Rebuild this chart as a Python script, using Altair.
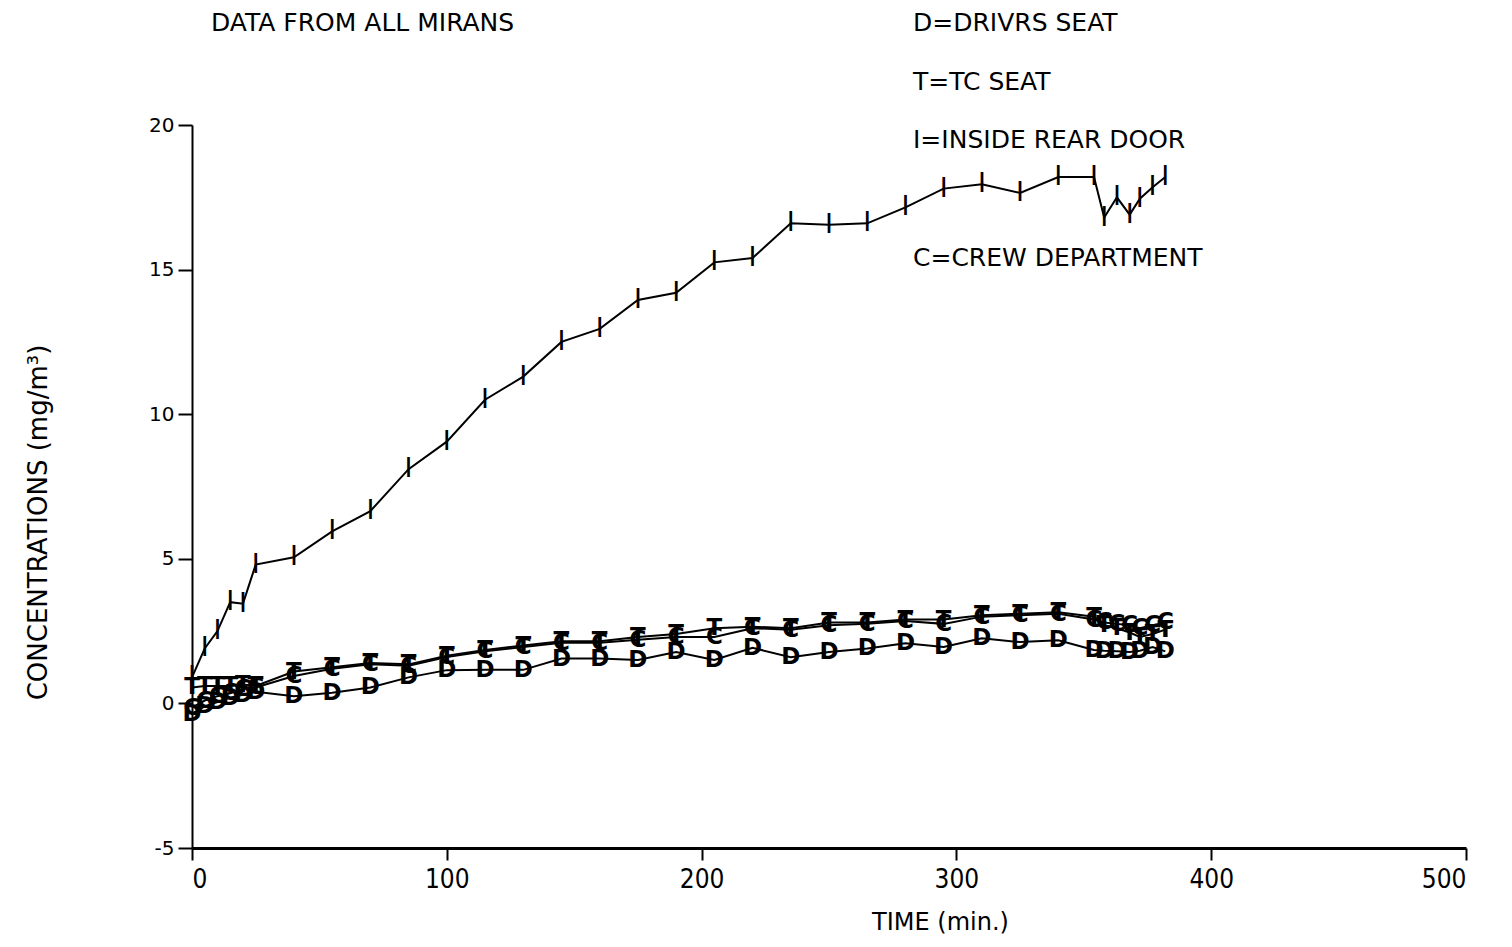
import altair as alt
import pandas as pd

# ---- data ----
times = [0, 5, 10, 15, 20, 25, 40, 55, 70, 85, 100, 115, 130, 145, 160, 175, 190,
         205, 220, 235, 250, 265, 280, 295, 310, 325, 340, 354, 358, 363, 368, 372, 377, 382]

drivers_seat = [-0.35, -0.1, 0.05, 0.2, 0.3, 0.4, 0.25, 0.37, 0.55, 0.9, 1.15, 1.16, 1.16,
                1.55, 1.55, 1.5, 1.78, 1.5, 1.92, 1.6, 1.78, 1.9, 2.08, 1.95, 2.25, 2.12,
                2.18, 1.85, 1.82, 1.8, 1.78, 1.82, 1.95, 1.8]

tc_seat = [0.55, 0.6, 0.6, 0.6, 0.65, 0.6, 1.1, 1.25, 1.4, 1.35, 1.65, 1.85, 2.0, 2.15,
           2.15, 2.3, 2.4, 2.6, 2.65, 2.6, 2.8, 2.8, 2.9, 2.9, 3.05, 3.1, 3.15, 3.0, 2.7,
           2.6, 2.45, 2.3, 2.4, 2.55]

inside_rear_door = [0.9, 1.9, 2.5, 3.5, 3.45, 4.8, 5.05, 5.95, 6.65, 8.1, 9.05, 10.5, 11.3,
                    12.5, 12.95, 13.95, 14.2, 15.25, 15.4, 16.6, 16.55, 16.6, 17.15, 17.8,
                    17.95, 17.65, 18.2, 18.2, 16.8, 17.5, 16.9, 17.45, 17.85, 18.2]

crew_department = [-0.15, 0.1, 0.25, 0.35, 0.5, 0.55, 0.95, 1.2, 1.35, 1.3, 1.6, 1.8, 1.95,
                   2.1, 2.1, 2.2, 2.3, 2.3, 2.6, 2.55, 2.7, 2.75, 2.85, 2.75, 3.0, 3.05, 3.1,
                   2.9, 2.8, 2.75, 2.7, 2.6, 2.7, 2.8]

series_letters = ["D", "T", "I", "C"]
x_ticks = [0, 100, 200, 300, 400, 500]
y_ticks = [-5, 0, 5, 10, 15, 20]

main_title = "DATA FROM ALL MIRANS"
legend_lines = ["D=DRIVRS SEAT", "T=TC SEAT", "I=INSIDE REAR DOOR", "C=CREW DEPARTMENT"]
x_title = "TIME (min.)"
y_title = "CONCENTRATIONS (mg/m³)"

rows = []
for letter, vals in zip(series_letters, [drivers_seat, tc_seat, inside_rear_door, crew_department]):
    for t, v in zip(times, vals):
        rows.append({"time": t, "conc": v, "series": letter})
df = pd.DataFrame(rows)

FONT = "DejaVu Sans"
NARROW = "Liberation Sans Narrow, DejaVu Sans Condensed, sans-serif"

x_enc = alt.X("time:Q",
              scale=alt.Scale(domain=[0, 500], nice=False, zero=False),
              axis=alt.Axis(values=x_ticks, title=x_title, labelExpr="'' + datum.value",
                            labelFont=NARROW, labelFontSize=26, labelPadding=6,
                            tickSize=12, tickWidth=2, domainWidth=3,
                            titleFont=FONT, titleFontSize=24, titleFontWeight="normal",
                            titleX=748, titleY=74, titleAlign="center",
                            titleBaseline="middle", titleAngle=0))
y_enc = alt.Y("conc:Q",
              scale=alt.Scale(domain=[-5, 20], nice=False, zero=False),
              axis=alt.Axis(values=y_ticks, title=y_title, labelExpr="'' + datum.value",
                            labelFont=FONT, labelFontSize=20, labelPadding=4,
                            tickSize=14, tickWidth=2, domainWidth=2,
                            titleFont=FONT, titleFontSize=26, titleFontWeight="normal",
                            titleX=-154, titleY=397, titleAngle=270,
                            titleAlign="center", titleBaseline="middle"))

base = alt.Chart(df)

lines = base.mark_line(color="black", strokeWidth=2).encode(
    x=x_enc, y=y_enc, detail="series:N"
)

glyphs_dtc = base.transform_filter(alt.datum.series != "I").mark_text(
    font=FONT, fontSize=23, fontWeight="bold", color="black", baseline="middle", align="center"
).encode(x="time:Q", y="conc:Q", text="series:N")

glyphs_i = base.transform_filter(alt.datum.series == "I").mark_text(
    font=FONT, fontSize=27, color="black", baseline="middle", align="center"
).encode(x="time:Q", y="conc:Q", text="series:N")

def label(txt, px, py):
    return alt.Chart(pd.DataFrame({"t": [txt]})).mark_text(
        font=FONT, fontSize=25, color="black", align="left", baseline="middle"
    ).encode(x=alt.value(px), y=alt.value(py), text="t:N")

texts = [label(main_title, 19, -102)]
for txt, py in zip(legend_lines, [-102, -43, 15, 133]):
    texts.append(label(txt, 721, py))

chart = alt.layer(lines, glyphs_dtc, glyphs_i, *texts).properties(
    width=1274, height=723,
    padding={"left": 184, "top": 117, "right": 30, "bottom": 88},
    autosize=alt.AutoSizeParams(type="none"),
    background="white",
).configure_view(stroke=None).configure_axis(
    domainColor="black", tickColor="black", labelColor="black", titleColor="black", grid=False
)

chart.save("out.html", embed_options={"renderer": "svg", "actions": False})
